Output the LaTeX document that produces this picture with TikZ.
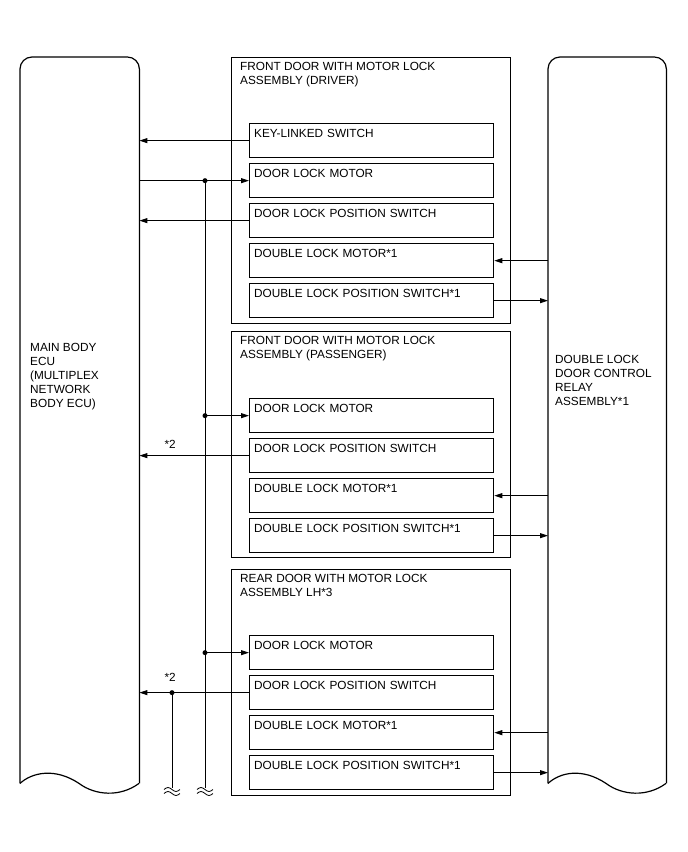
\documentclass[tikz,border=0pt]{standalone}
\usepackage{fontspec}
\setmainfont{Liberation Sans}
\usetikzlibrary{arrows.meta, positioning}

\begin{document}
\begin{tikzpicture}[
    x=1pt, y=-1pt,
    font=\fontsize{11.8}{14}\selectfont,
    arrow/.style={-{Triangle[length=8pt, width=5pt]}, line width=0.9pt},
    wire/.style={line width=0.9pt},
    unit/.style={rectangle, minimum width=119pt, minimum height=726pt, anchor=north west, inner sep=0pt},
    outline/.style={line width=1.2pt},
    group/.style={rectangle, draw, line width=1pt, minimum width=279pt, anchor=north west, inner sep=0pt},
    part/.style={rectangle, draw, line width=1.3pt, text width=235pt, align=left, inner xsep=4.5pt, inner ysep=4pt, text height=10pt, text depth=16pt},
    title/.style={align=left, inner sep=0pt, anchor=north west},
    dot/.style={circle, fill, inner sep=0pt, minimum size=5pt},
    brk/.pic={
        \draw[line width=0.8pt] (-8,1.5) sin (-4,-0.5) cos (0,1.5) sin (4,3.5) cos (8,1.5);
        \draw[line width=0.8pt] (-8,5.5) sin (-4,3.5) cos (0,5.5) sin (4,7.5) cos (8,5.5);
    }
]
\useasboundingbox (0,0) rectangle (688,852);

% ECU and relay
\node[unit] (ecu) at (20,57) {};
\node[unit, minimum width=118pt] (relay) at (548,57) {};
\draw[outline, rounded corners=12pt] (ecu.south west) -- (ecu.north west) -- (ecu.north east) -- (ecu.south east);
\draw[outline, shift={(ecu.south west)}] (119,0) .. controls (100,14) and (75,12) .. (59,0) .. controls (35,-16) and (12,-11) .. (0,0);
\draw[outline, rounded corners=12pt] (relay.south west) -- (relay.north west) -- (relay.north east) -- (relay.south east);
\draw[outline, shift={(relay.south west)}] (118,0) .. controls (99,14) and (74,12) .. (58,0) .. controls (34,-16) and (12,-11) .. (0,0);
\node[title] (ecutext) at (30,343) {MAIN BODY\\ECU\\(MULTIPLEX\\NETWORK\\BODY ECU)};
\node[title] (relaytext) at (555,355) {DOUBLE LOCK\\DOOR CONTROL\\RELAY\\ASSEMBLY*1};

% door assemblies
\node[group, minimum height=266pt] (drv) at (231,57) {};
\node[group, minimum height=226pt, below=7pt of drv] (pas) {};
\node[group, minimum height=226pt, below=11pt of pas] (rear) {};
\node[title, below right=5pt and 9pt of drv.north west] (drvtitle) {FRONT DOOR WITH MOTOR LOCK\\ASSEMBLY (DRIVER)};
\node[title, below right=5pt and 9pt of pas.north west] (pastitle) {FRONT DOOR WITH MOTOR LOCK\\ASSEMBLY (PASSENGER)};
\node[title, below right=5pt and 9pt of rear.north west] (reartitle) {REAR DOOR WITH MOTOR LOCK\\ASSEMBLY LH*3};

\node[part, below right=66pt and 18pt of drv.north west] (kls) {KEY-LINKED SWITCH};
\node[part, below=4.7pt of kls] (dlm) {DOOR LOCK MOTOR};
\node[part, below=4.7pt of dlm] (dlps) {DOOR LOCK POSITION SWITCH};
\node[part, below=4.7pt of dlps] (dbm) {DOUBLE LOCK MOTOR*1};
\node[part, below=4.7pt of dbm] (dbps) {DOUBLE LOCK POSITION SWITCH*1};

\node[part, below right=67pt and 18pt of pas.north west] (pdlm) {DOOR LOCK MOTOR};
\node[part, below=4.7pt of pdlm] (pdlps) {DOOR LOCK POSITION SWITCH};
\node[part, below=4.7pt of pdlps] (pdbm) {DOUBLE LOCK MOTOR*1};
\node[part, below=4.7pt of pdbm] (pdbps) {DOUBLE LOCK POSITION SWITCH*1};

\node[part, below right=66pt and 18pt of rear.north west] (rdlm) {DOOR LOCK MOTOR};
\node[part, below=4.7pt of rdlm] (rdlps) {DOOR LOCK POSITION SWITCH};
\node[part, below=4.7pt of rdlps] (rdbm) {DOUBLE LOCK MOTOR*1};
\node[part, below=4.7pt of rdbm] (rdbps) {DOUBLE LOCK POSITION SWITCH*1};

% buses
\coordinate (busA) at (205,788);
\coordinate (busB) at (172,788);

% driver
\draw[arrow] (kls.west) -- (kls.west -| ecu.east);
\draw[arrow] (dlm.west -| ecu.east) -- (dlm.west);
\node[dot] (jA) at (dlm.west -| busA) {};
\draw[wire] (jA.center) -- (busA);
\draw[arrow] (dlps.west) -- (dlps.west -| ecu.east);
\draw[arrow] (dbm.east -| relay.west) -- (dbm.east);
\draw[arrow] (dbps.east) -- (dbps.east -| relay.west);

% passenger
\node[dot] (jB) at (pdlm.west -| busA) {};
\draw[arrow] (jB.center) -- (pdlm.west);
\draw[arrow] (pdlps.west) -- (pdlps.west -| ecu.east) node[above=3pt, pos=0.72] {*2};
\draw[arrow] (pdbm.east -| relay.west) -- (pdbm.east);
\draw[arrow] (pdbps.east) -- (pdbps.east -| relay.west);

% rear
\node[dot] (jC) at (rdlm.west -| busA) {};
\draw[arrow] (jC.center) -- (rdlm.west);
\node[dot] (jD) at (rdlps.west -| busB) {};
\draw[arrow] (rdlps.west) -- (rdlps.west -| ecu.east) node[above=7pt, pos=0.72] {*2};
\draw[wire] (jD.center) -- (busB);
\draw[arrow] (rdbm.east -| relay.west) -- (rdbm.east);
\draw[arrow] (rdbps.east) -- (rdbps.east -| relay.west);

\pic at (busA) {brk};
\pic at (busB) {brk};
\end{tikzpicture}
\end{document}
